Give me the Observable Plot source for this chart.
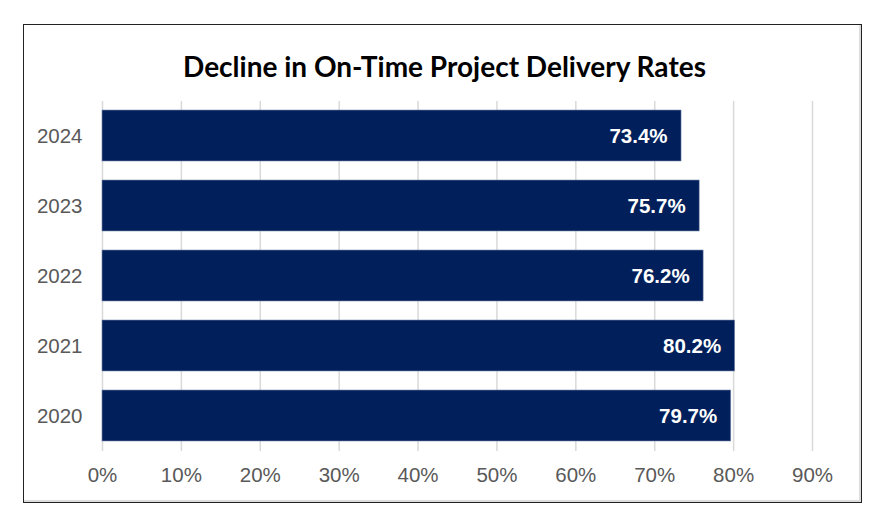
<!DOCTYPE html>
<html>
<head>
<meta charset="utf-8">
<script src="https://cdn.jsdelivr.net/npm/d3@7"></script>
<script src="https://cdn.jsdelivr.net/npm/@observablehq/plot@0.6"></script>
<style>
  html, body { margin: 0; padding: 0; background: #fff; }
  #wrap { position: relative; width: 877px; height: 519px; overflow: hidden; }
  #frame { position: absolute; left: 23px; top: 24px; width: 837px; height: 477px;
           border: 1.5px solid #222; box-shadow: inset -2px -2px 0 #ddd; }
  #title { position: absolute; left: 0; width: 889px; top: 49px; text-align: center;
           font-family: Lato, "Open Sans", sans-serif; font-weight: bold; font-size: 28px; color: #000; }
  #chart { position: absolute; left: 0; top: 0; }
</style>
</head>
<body>
<div id="wrap">
  <div id="frame"></div>
  <div id="title">Decline in On-Time Project Delivery Rates</div>
  <div id="chart"></div>
</div>
<script>
const years = ["2024", "2023", "2022", "2021", "2020"];
const rates = [73.4, 75.7, 76.2, 80.2, 79.7];
const xTicks = [0, 10, 20, 30, 40, 50, 60, 70, 80, 90];

const data = years.map((y, i) => ({year: y, rate: rates[i]}));

const chart = Plot.plot({
  width: 877,
  height: 519,
  marginLeft: 102,
  marginRight: 65,
  marginTop: 101,
  marginBottom: 68,
  style: {background: "transparent", fontFamily: "'Liberation Sans', Arial, sans-serif"},
  x: {domain: [0, 90], ticks: xTicks, tickFormat: d => d + "%", label: null},
  y: {domain: years, paddingInner: 0.27, paddingOuter: 0.135, label: null},
  marks: [
    Plot.gridX(xTicks, {stroke: "#d9d9d9", strokeOpacity: 1, strokeWidth: 1.5}),
    Plot.barX(data, {x: "rate", y: "year", fill: "#001f5b", stroke: "#7f8fb0", strokeWidth: 0.6}),
    Plot.text(data, {x: "rate", y: "year", text: d => d.rate.toFixed(1) + "%", textAnchor: "end", dx: -14,
      fill: "#fff", fontWeight: "bold", fontSize: 20.5, fontFamily: "'Liberation Sans', Arial, sans-serif"}),
    Plot.axisX(xTicks, {tickSize: 0, tickPadding: 16, fontSize: 20.5, fill: "#595959", tickFormat: d => d + "%", label: null}),
    Plot.axisY({tickSize: 0, tickPadding: 20, fontSize: 20.5, fill: "#595959", label: null})
  ]
});
document.getElementById("chart").appendChild(chart);
</script>
</body>
</html>
